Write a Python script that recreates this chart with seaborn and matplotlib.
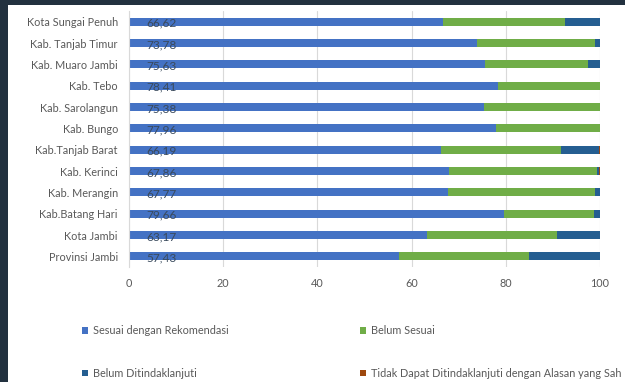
import matplotlib
matplotlib.use("Agg")
import matplotlib.pyplot as plt
from matplotlib.patches import Rectangle, Patch
import numpy as np
import pandas as pd
import seaborn as sns

# data (percent)
regions = ["Kota Sungai Penuh", "Kab. Tanjab Timur", "Kab. Muaro Jambi", "Kab. Tebo",
           "Kab. Sarolangun", "Kab. Bungo", "Kab.Tanjab Barat", "Kab. Kerinci",
           "Kab. Merangin", "Kab.Batang Hari", "Kota Jambi", "Provinsi Jambi"]
sesuai = [66.62, 73.78, 75.63, 78.41, 75.38, 77.96, 66.19, 67.86, 67.77, 79.66, 63.17, 57.43]
belum_sesuai = [26.0, 25.2, 21.8, 21.59, 24.62, 22.04, 25.5, 31.6, 31.1, 19.0, 27.7, 27.6]
belum_tl = [7.38, 1.02, 2.57, 0, 0, 0, 8.11, 0.34, 1.13, 1.34, 9.13, 14.97]
tidak_dapat = [0, 0, 0, 0, 0, 0, 0.2, 0.2, 0, 0, 0, 0]
value_labels = ["66,62", "73,78", "75,63", "78,41", "75,38", "77,96",
                "66,19", "67,86", "67,77", "79,66", "63,17", "57,43"]

series = ["Sesuai dengan Rekomendasi", "Belum Sesuai",
          "Belum Ditindaklanjuti", "Tidak Dapat Ditindaklanjuti dengan Alasan yang Sah"]
colors = ["#4472C4", "#70AD47", "#255E91", "#9E480E"]

sns.set_style("white")
plt.rcParams["font.family"] = ["Lato", "DejaVu Sans"]
FS = 7.8

df = pd.DataFrame({"region": regions, series[0]: sesuai, series[1]: belum_sesuai,
                   series[2]: belum_tl, series[3]: tidak_dapat})
cum = df[series].cumsum(axis=1)

fig = plt.figure(figsize=(6.25, 3.82), dpi=100, facecolor="#22313f")
fig.patches.append(Rectangle((8 / 625, 0), 1, 1 - 5 / 382, transform=fig.transFigure,
                             facecolor="white", edgecolor="none", zorder=-5))
ax = fig.add_axes([129 / 625, 1 - 267 / 382, 471 / 625, 256 / 382])

# draw the cumulative totals largest first so each segment shows through
for name, col in reversed(list(zip(series, colors))):
    sns.barplot(x=cum[name], y=df["region"], orient="h", color=col,
                width=0.38, saturation=1, ax=ax, linewidth=0)

for i, lab in enumerate(value_labels):
    ax.text(7.0, i + 0.08, lab, ha="center", va="center", fontsize=8.6, color="#3a4a5c")

ax.set_xlim(0, 100)
ax.set_ylim(11.5, -0.5)
ax.set_xticks([0, 20, 40, 60, 80, 100])
ax.grid(axis="x", color="#d9d9d9", linewidth=0.8)
ax.set_axisbelow(True)
for s in ["top", "right", "bottom"]:
    ax.spines[s].set_visible(False)
ax.spines["left"].set_color("#d9d9d9")
ax.set_xlabel("")
ax.set_ylabel("")
ax.tick_params(axis="both", length=0, labelsize=FS, colors="#595959")
ax.tick_params(axis="x", pad=8)
ax.tick_params(axis="y", pad=8)
ax.set_facecolor("none")

handles = [Patch(facecolor=c, edgecolor="none") for c in colors]
leg_kw = dict(frameon=False, fontsize=FS, labelcolor="#595959", handlelength=0.55,
              handleheight=0.55, handletextpad=0.4, labelspacing=2.9, borderpad=0)
fig.legend([handles[0], handles[2]], [series[0], series[2]], loc="upper left",
           bbox_to_anchor=(77 / 625, 1 - 320 / 382), **leg_kw)
fig.legend([handles[1], handles[3]], [series[1], series[3]], loc="upper left",
           bbox_to_anchor=(355 / 625, 1 - 320 / 382), **leg_kw)

fig.savefig("out.png", dpi=100, facecolor=fig.get_facecolor())
